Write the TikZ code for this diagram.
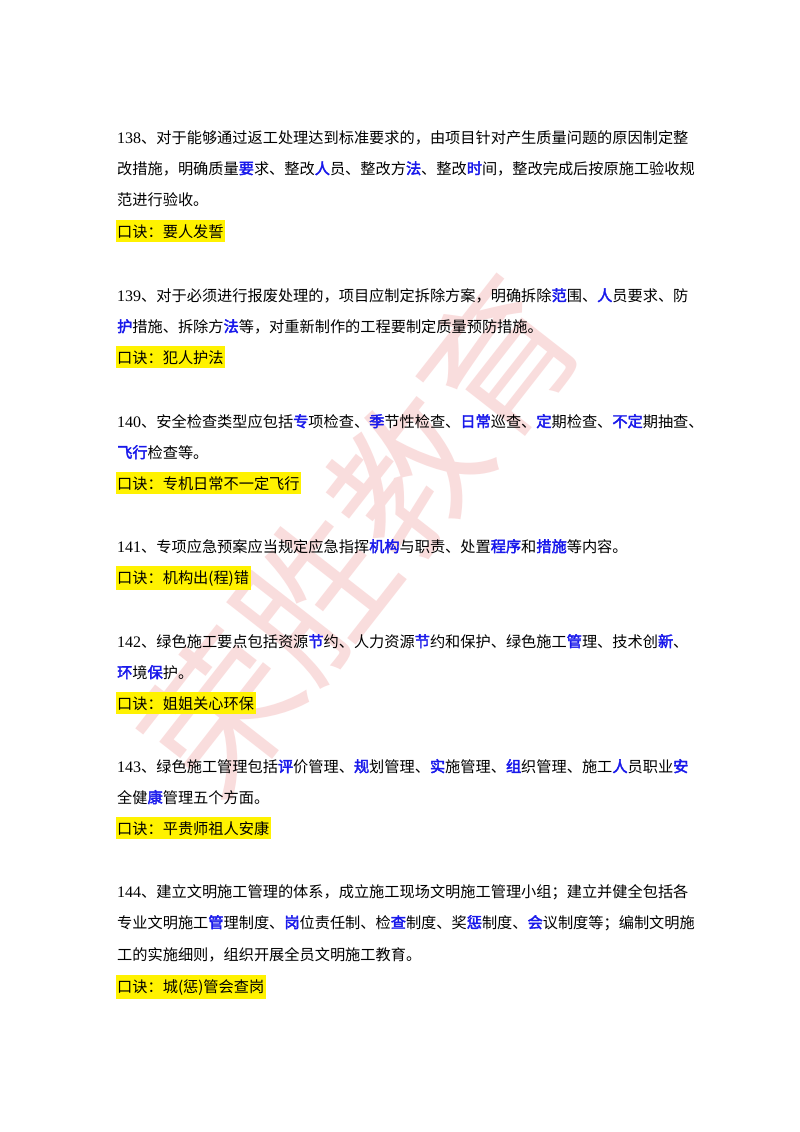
\documentclass[tikz,border=0pt]{standalone}
\usepackage{fontspec}
\setmainfont{Noto Sans CJK SC}[AutoFakeBold=2.5]
\newfontfamily\wmfont{Noto Sans CJK SC}
\newfontfamily\numfont{Liberation Serif}
\definecolor{kwblue}{RGB}{25,25,235}
\definecolor{wmpink}{RGB}{235,120,120}
\newcommand{\kw}[1]{{\color{kwblue}\bfseries #1}}
\newcommand{\nm}[1]{{\numfont\fontsize{16}{16}\selectfont #1}}
\tikzset{
  ln/.style={anchor=base west, inner sep=0pt, font=\fontsize{15.2}{15}\selectfont},
  tip/.style={anchor=base west, fill=yellow, inner xsep=1.5pt, inner ysep=4pt, font=\fontsize{15.2}{15}\selectfont}
}
\begin{document}
\begin{tikzpicture}[x=1pt,y=-1pt]
\useasboundingbox (0,0) rectangle (800,1132);
\fill[white] (0,0) rectangle (800,1132);
\node[rotate=52, text=wmpink, opacity=0.25, font=\wmfont\fontsize{150}{150}\selectfont, inner sep=0pt] (wm) at (360,535) {荣胜教育};
% 138
\node[ln] (l1) at (117,143) {\nm{138}、对于能够通过返工处理达到标准要求的，由项目针对产生质量问题的原因制定整};
\node[ln] (l2) at (117,174) {改措施，明确质量\kw{要}求、整改\kw{人}员、整改方\kw{法}、整改\kw{时}间，整改完成后按原施工验收规};
\node[ln] (l3) at (117,205) {范进行验收。};
\node[tip] (t1) at (115.5,237) {口诀：要人发誓};
% 139
\node[ln] (l4) at (117,301) {\nm{139}、对于必须进行报废处理的，项目应制定拆除方案，明确拆除\kw{范}围、\kw{人}员要求、防};
\node[ln] (l5) at (117,332) {\kw{护}措施、拆除方\kw{法}等，对重新制作的工程要制定质量预防措施。};
\node[tip] (t2) at (115.5,363) {口诀：犯人护法};
% 140
\node[ln] (l6) at (117,427) {\nm{140}、安全检查类型应包括\kw{专}项检查、\kw{季}节性检查、\kw{日常}巡查、\kw{定}期检查、\kw{不定}期抽查、};
\node[ln] (l7) at (117,458) {\kw{飞行}检查等。};
\node[tip] (t3) at (115.5,489) {口诀：专机日常不一定飞行};
% 141
\node[ln] (l8) at (117,552) {\nm{141}、专项应急预案应当规定应急指挥\kw{机构}与职责、处置\kw{程序}和\kw{措施}等内容。};
\node[tip] (t4) at (115.5,583) {口诀：机构出(程)错};
% 142
\node[ln] (l9) at (117,647) {\nm{142}、绿色施工要点包括资源\kw{节}约、人力资源\kw{节}约和保护、绿色施工\kw{管}理、技术创\kw{新}、};
\node[ln] (l10) at (117,678) {\kw{环}境\kw{保}护。};
\node[tip] (t5) at (115.5,709) {口诀：姐姐关心环保};
% 143
\node[ln] (l11) at (117,772) {\nm{143}、绿色施工管理包括\kw{评}价管理、\kw{规}划管理、\kw{实}施管理、\kw{组}织管理、施工\kw{人}员职业\kw{安}};
\node[ln] (l12) at (117,803) {全健\kw{康}管理五个方面。};
\node[tip] (t6) at (115.5,834) {口诀：平贵师祖人安康};
% 144
\node[ln] (l13) at (117,897) {\nm{144}、建立文明施工管理的体系，成立施工现场文明施工管理小组；建立并健全包括各};
\node[ln] (l14) at (117,928) {专业文明施工\kw{管}理制度、\kw{岗}位责任制、检\kw{查}制度、奖\kw{惩}制度、\kw{会}议制度等；编制文明施};
\node[ln] (l15) at (117,960) {工的实施细则，组织开展全员文明施工教育。};
\node[tip] (t7) at (115.5,992) {口诀：城(惩)管会查岗};
\end{tikzpicture}
\end{document}
